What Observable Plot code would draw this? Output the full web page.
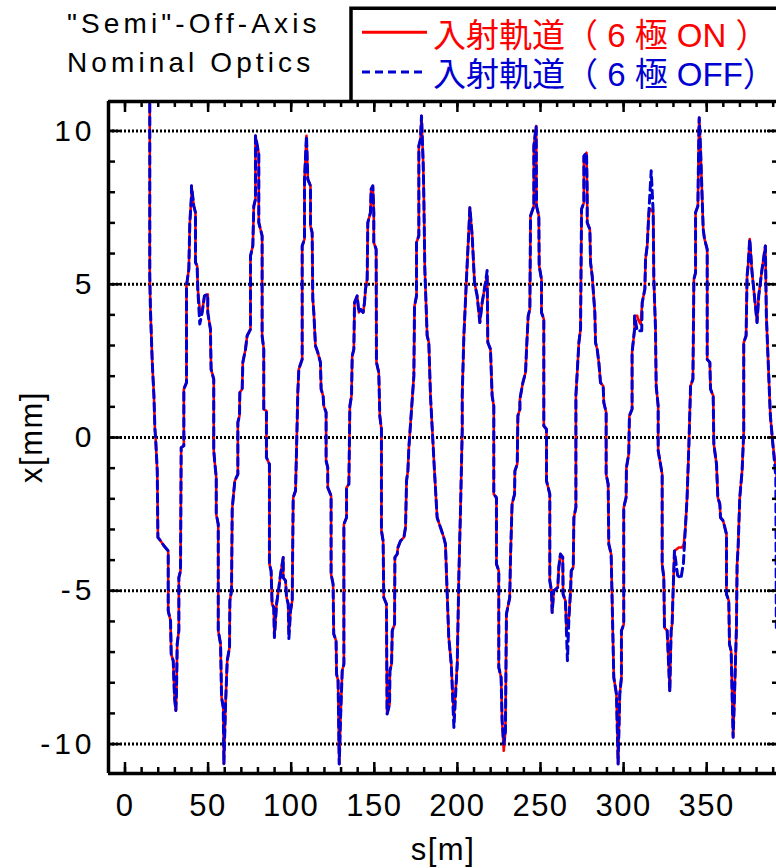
<!DOCTYPE html>
<html><head><meta charset="utf-8">
<script src="https://cdn.jsdelivr.net/npm/d3@7"></script>
<script src="https://cdn.jsdelivr.net/npm/@observablehq/plot@0.6"></script>
<style>
html,body{margin:0;padding:0;background:#fff;overflow:hidden;}
</style></head><body><div id="chart"></div>
<script>
// ---- data (s in m, x in mm) ----
const sOn = [14.9,14.9,15.3,16.4,17.4,18.0,18.4,19.4,19.8,21.4,23.4,26.0,26.0,27.4,27.8,29.0,29.8,30.6,31.0,31.4,32.4,32.4,33.4,33.8,35.4,35.4,37.0,37.0,38.4,39.0,40.0,40.0,41.4,42.4,42.4,43.4,43.8,45.0,46.4,47.8,49.8,49.8,51.4,51.8,53.4,53.4,54.1,54.9,54.9,56.1,56.1,57.5,58.1,59.1,59.5,60.5,61.5,62.9,63.1,64.1,64.5,65.5,66.1,67.9,67.9,68.9,69.1,70.5,70.9,72.5,73.5,75.5,75.5,76.9,77.5,78.5,78.5,80.5,80.5,82.5,82.5,83.5,83.5,85.1,85.1,86.9,86.9,87.9,88.5,89.5,89.9,91.2,92.6,93.6,95.2,95.2,96.6,97.2,98.2,98.6,99.6,100.6,101.2,102.6,103.2,104.0,104.6,106.6,106.6,108.0,108.0,109.2,110.0,111.6,111.6,112.6,113.0,113.6,114.6,116.0,117.6,118.0,119.2,119.6,121.0,121.0,122.0,122.0,124.0,124.0,125.2,125.6,127.0,127.3,128.2,128.9,129.7,130.7,131.7,131.7,133.3,133.3,134.7,135.3,136.3,136.7,137.7,138.1,139.7,140.7,141.7,143.3,144.1,144.7,145.7,146.1,147.7,148.1,149.1,149.7,149.7,151.1,151.3,152.7,153.3,154.3,154.3,155.3,155.7,157.3,157.7,159.2,159.4,160.4,160.8,162.2,162.4,163.8,164.2,165.8,167.8,168.8,169.4,170.2,170.8,173.8,174.2,175.4,175.4,176.8,176.8,177.8,178.4,179.4,179.8,180.4,181.8,182.8,183.8,185.4,186.2,187.8,189.8,191.8,192.8,194.8,196.3,197.9,199.9,200.9,201.9,202.9,202.9,203.9,205.5,206.9,207.5,208.9,210.3,211.9,213.5,214.9,216.9,217.9,218.3,219.9,220.9,221.9,221.9,223.5,223.5,224.9,224.9,226.3,226.9,227.9,228.9,229.5,231.5,231.9,232.9,234.4,234.6,236.0,236.4,237.6,237.6,239.4,241.0,241.6,242.6,243.6,244.0,246.0,246.0,247.4,247.6,249.0,249.2,250.6,250.6,252.0,252.0,253.6,253.6,255.6,255.6,256.6,257.0,258.0,260.4,261.0,262.0,263.4,263.6,265.0,265.7,267.1,268.1,268.5,269.7,270.1,271.3,271.3,273.1,274.1,274.7,276.1,276.1,277.7,278.1,278.1,279.7,280.1,281.1,282.7,283.1,284.1,285.1,286.1,287.7,288.1,289.5,289.5,290.7,291.1,292.5,294.1,295.7,296.7,297.7,298.7,298.7,300.1,300.1,301.5,301.7,303.1,303.5,305.1,305.1,306.6,306.6,308.2,308.6,310.2,311.2,312.8,313.2,314.2,315.2,316.2,317.8,318.2,319.2,319.6,320.8,320.8,322.2,323.2,323.2,324.2,324.6,326.2,327.8,328.6,329.2,329.8,330.6,333.2,335.2,336.2,337.2,338.2,339.3,340.3,341.7,342.3,343.3,343.3,344.7,345.3,345.5,346.3,347.3,347.9,348.7,350.3,350.3,351.9,352.3,353.9,354.3,355.9,356.7,357.9,358.3,359.9,361.9,361.9,363.3,363.7,364.7,365.9,366.7,367.9,368.3,368.9,369.9,371.3,372.3,372.3,373.7,374.3,374.9,375.9,377.3,378.7,380.3,381.3,383.3,385.3,385.9,386.7,388.3,389.9,391.9,394.5];
const xOn = [11.3,5.27,4.18,2.45,1.36,0.27,0.0,-1.09,-3.26,-3.37,-3.53,-3.70,-5.65,-5.98,-7.07,-7.28,-8.48,-8.91,-8.26,-6.74,-6.30,-4.57,-4.35,-0.33,-0.27,1.58,1.79,4.95,5.49,7.01,7.88,8.21,7.55,7.34,5.71,5.60,4.84,4.18,4.08,4.62,4.67,4.08,3.53,2.23,1.90,-0.43,-0.87,-1.30,-2.50,-2.83,-6.30,-6.74,-8.48,-8.80,-10.65,-8.70,-7.28,-6.85,-5.33,-5.00,-2.34,-1.74,-1.41,-1.20,0.49,0.71,1.47,1.58,2.45,2.88,3.32,3.53,5.92,6.25,7.55,7.77,9.84,9.24,7.01,6.58,3.32,2.88,0.92,0.87,-0.65,-0.87,-4.13,-4.35,-5.43,-5.54,-6.52,-5.43,-4.89,-4.46,-3.91,-4.57,-4.67,-5.22,-5.43,-6.41,-5.65,-5.33,-1.96,-1.74,-0.43,1.50,2.23,2.55,6.25,6.47,8.42,9.84,8.42,8.21,6.90,6.68,4.51,4.08,2.99,2.77,2.45,1.58,1.36,1.03,0.82,-0.76,-0.98,-1.63,-1.90,-4.46,-4.78,-6.41,-6.63,-7.72,-7.93,-10.65,-9.13,-7.61,-7.39,-2.83,-2.61,-1.63,-1.52,1.03,1.36,2.66,2.88,4.40,4.62,4.08,4.18,4.08,4.40,4.84,5.16,7.01,7.34,8.10,8.21,7.34,6.36,6.14,2.45,2.12,0.71,0.27,-3.04,-3.37,-5.22,-5.43,-9.02,-8.70,-7.61,-7.39,-6.30,-6.09,-3.91,-3.80,-3.59,-3.37,-3.26,-2.93,-1.41,-1.09,-0.33,2.01,4.29,4.62,6.36,6.58,9.51,9.73,10.49,8.97,7.88,5.49,3.32,3.10,1.36,-0.27,-1.09,-2.61,-2.93,-3.26,-3.48,-6.52,-7.39,-9.13,-7.39,-4.46,-2.28,0.22,1.36,3.32,5.22,6.79,7.50,6.58,5.05,4.62,3.75,4.40,5.05,5.27,3.10,2.88,1.36,1.03,-1.85,-1.96,-4.13,-4.35,-7.50,-7.83,-9.24,-10.22,-9.57,-5.76,-5.22,-4.02,-2.17,-1.85,-1.09,-0.87,0.71,0.92,1.25,1.79,2.12,2.88,3.97,4.18,7.23,7.55,9.51,10.16,7.55,7.23,5.60,5.16,4.08,3.86,0.38,0.27,-1.41,-1.85,-4.67,-5.00,-5.71,-5.00,-4.89,-4.24,-3.80,-3.91,-5.11,-5.33,-6.30,-5.87,-5.00,-4.35,-4.24,-2.61,-2.28,1.36,3.10,3.53,7.45,7.66,9.18,9.29,7.99,7.01,6.79,5.71,5.27,4.08,3.10,2.88,2.45,1.79,1.68,1.14,0.82,-1.20,-1.52,-3.48,-3.80,-7.83,-8.37,-10.65,-8.37,-7.83,-6.30,-6.09,-2.28,-1.96,-0.98,-0.54,0.71,0.92,2.77,3.53,3.97,3.97,3.86,3.70,4.40,4.84,5.82,6.25,7.34,7.45,7.34,5.16,3.53,1.68,1.03,-0.43,-0.87,-1.20,-4.13,-4.57,-6.20,-6.30,-8.26,-6.30,-6.09,-5.00,-3.70,-3.59,-3.59,-3.48,-2.93,-1.96,-0.22,1.68,1.90,5.16,5.38,7.34,7.55,10.05,10.43,9.40,7.77,6.79,6.47,6.14,2.55,2.45,1.58,1.36,-0.22,-0.87,-1.96,-2.17,-2.61,-2.72,-3.15,-5.11,-5.33,-6.74,-6.96,-9.78,-8.48,-6.20,-4.13,-3.59,-1.96,-1.09,0.20,3.10,3.32,5.27,5.60,6.47,5.38,4.62,3.75,4.62,5.49,6.25,3.97,2.88,0.71,-0.27,-1.09,-3.50];

const sOff = [14.9,14.9,15.3,16.4,17.4,18.0,18.4,19.4,19.8,21.4,23.4,26.0,26.0,27.4,27.8,29.0,29.8,30.6,31.0,31.4,32.4,32.4,33.4,33.8,35.4,35.4,37.0,37.0,38.4,39.0,40.0,40.0,41.4,42.4,42.4,43.4,43.8,45.0,46.4,47.8,49.8,49.8,51.4,51.8,53.4,53.4,54.1,54.9,54.9,56.1,56.1,57.5,58.1,59.1,59.5,60.5,61.5,62.9,63.1,64.1,64.5,65.5,66.1,67.9,67.9,68.9,69.1,70.5,70.9,72.5,73.5,75.5,75.5,76.9,77.5,78.5,78.5,80.5,80.5,82.5,82.5,83.5,83.5,85.1,85.1,86.9,86.9,87.9,88.5,89.5,89.9,91.2,92.6,93.6,95.2,95.2,96.6,97.2,98.2,98.6,99.6,100.6,101.2,102.6,103.2,104.0,104.6,106.6,106.6,108.0,108.0,109.2,110.0,111.6,111.6,112.6,113.0,113.6,114.6,116.0,117.6,118.0,119.2,119.6,121.0,121.0,122.0,122.0,124.0,124.0,125.2,125.6,127.0,127.3,128.2,128.9,129.7,130.7,131.7,131.7,133.3,133.3,134.7,135.3,136.3,136.7,137.7,138.1,139.7,140.7,141.7,143.3,144.1,144.7,145.7,146.1,147.7,148.1,149.1,149.7,149.7,151.1,151.3,152.7,153.3,154.3,154.3,155.3,155.7,157.3,157.7,159.2,159.4,160.4,160.8,162.2,162.4,163.8,164.2,165.8,167.8,168.8,169.4,170.2,170.8,173.8,174.2,175.4,175.4,176.8,176.8,177.8,178.4,179.4,179.8,180.4,181.8,182.8,183.8,185.4,186.2,187.8,189.8,191.8,192.8,194.8,196.3,197.9,199.9,200.9,201.9,202.9,202.9,203.9,205.5,206.9,207.5,208.9,210.3,211.9,213.5,214.9,216.9,217.9,218.3,219.9,220.9,221.9,221.9,223.5,223.5,224.9,224.9,226.3,226.9,227.9,228.9,229.5,231.5,231.9,232.9,234.4,234.6,236.0,236.4,237.6,237.6,239.4,241.0,241.6,242.6,243.6,244.0,246.0,246.0,247.4,247.6,249.0,249.2,250.6,250.6,252.0,252.0,253.6,253.6,255.6,255.6,256.6,257.0,258.0,260.4,261.0,262.0,263.4,263.6,265.0,266.2,267.1,268.1,268.5,269.7,270.1,271.3,271.3,273.1,274.1,274.7,276.1,276.1,277.7,278.1,278.1,279.7,280.1,281.1,282.7,283.1,284.1,285.1,286.1,287.7,288.1,289.5,289.5,290.7,291.1,292.5,294.1,295.7,296.7,297.7,298.7,298.7,300.1,300.1,301.5,301.7,303.1,303.5,305.1,305.1,306.6,306.6,308.2,308.6,310.9,311.2,312.8,313.2,314.2,315.2,316.6,317.8,318.2,319.2,319.6,320.8,320.8,322.2,323.2,323.2,324.2,324.6,326.2,327.8,328.6,329.2,329.8,330.6,332.5,334.5,336.0,337.2,338.2,339.3,340.3,341.7,342.3,343.3,343.3,344.7,345.3,345.5,346.3,347.3,347.9,348.7,350.3,350.3,351.9,352.3,353.9,354.3,355.9,356.7,357.9,358.3,359.9,361.9,361.9,363.3,363.7,364.7,365.9,366.7,367.9,368.3,368.9,369.9,371.3,372.3,372.3,373.7,374.3,374.9,375.9,377.3,378.7,380.3,381.3,383.3,385.3,385.9,386.7,388.3,389.9,391.6,391.9];
const xOff = [11.3,5.27,4.18,2.45,1.36,0.27,0.0,-1.09,-3.26,-3.37,-3.53,-3.70,-5.65,-5.98,-7.07,-7.28,-8.48,-8.91,-8.26,-6.74,-6.30,-4.57,-4.35,-0.33,-0.27,1.58,1.79,4.95,5.49,7.01,7.88,8.21,7.55,7.34,5.71,5.60,4.84,3.70,4.08,4.62,4.67,4.08,3.53,2.23,1.90,-0.43,-0.87,-1.30,-2.50,-2.83,-6.30,-6.74,-8.48,-8.80,-10.65,-8.70,-7.28,-6.85,-5.33,-5.00,-2.34,-1.74,-1.41,-1.20,0.49,0.71,1.47,1.58,2.45,2.88,3.32,3.53,5.92,6.25,7.55,7.77,9.84,9.24,7.01,6.58,3.32,2.88,0.92,0.87,-0.65,-0.87,-4.13,-4.35,-5.43,-5.54,-6.52,-5.43,-4.89,-4.46,-3.91,-4.57,-4.67,-5.22,-5.43,-6.57,-5.65,-5.33,-1.96,-1.74,-0.43,1.50,2.23,2.55,6.25,6.47,8.42,9.84,8.42,8.21,6.90,6.68,4.51,4.08,2.99,2.77,2.45,1.58,1.36,1.03,0.82,-0.76,-0.98,-1.63,-1.90,-4.46,-4.78,-6.41,-6.63,-7.72,-7.93,-10.65,-9.13,-7.61,-7.39,-2.83,-2.61,-1.63,-1.52,1.03,1.36,2.66,2.88,4.40,4.62,4.08,4.18,4.08,4.40,4.84,5.16,7.01,7.34,8.10,8.21,7.34,6.36,6.14,2.45,2.12,0.71,0.27,-3.04,-3.37,-5.22,-5.43,-9.02,-8.70,-7.61,-7.39,-6.30,-6.09,-3.91,-3.80,-3.59,-3.37,-3.26,-2.93,-1.41,-1.09,-0.33,2.01,4.29,4.62,6.36,6.58,9.51,9.73,10.49,8.97,7.88,5.49,3.32,3.10,1.36,-0.27,-1.09,-2.61,-2.93,-3.26,-3.48,-6.52,-7.39,-9.46,-7.39,-4.46,-2.28,0.22,1.36,3.32,5.22,6.79,7.50,6.58,5.05,4.62,3.75,4.40,5.05,5.45,3.10,2.88,1.36,1.03,-1.85,-1.96,-4.13,-4.35,-7.50,-7.83,-9.24,-10.00,-9.57,-5.76,-5.22,-4.02,-2.17,-1.85,-1.09,-0.87,0.71,0.92,1.25,1.79,2.12,2.88,3.97,4.18,7.23,7.55,9.51,10.16,7.55,7.23,5.60,5.16,4.08,3.86,0.38,0.27,-1.41,-1.85,-4.67,-5.00,-5.71,-5.00,-4.89,-4.24,-3.80,-3.91,-5.11,-5.33,-7.28,-5.87,-5.00,-4.35,-4.24,-2.61,-2.28,1.36,3.10,3.53,7.45,7.66,9.18,9.29,7.99,7.01,6.79,5.71,5.27,4.08,3.10,2.88,2.45,1.79,1.68,1.14,0.82,-1.20,-1.52,-3.48,-3.80,-7.83,-8.37,-10.65,-8.37,-7.83,-6.30,-6.09,-2.28,-1.96,-0.98,-0.54,0.71,0.92,2.77,3.53,3.97,3.48,3.48,3.48,4.40,4.84,5.82,6.25,7.34,8.70,7.34,5.16,3.53,1.68,1.03,-0.43,-0.87,-1.20,-4.13,-4.57,-6.20,-6.30,-8.30,-6.30,-6.09,-5.00,-3.70,-4.50,-4.60,-4.10,-2.93,-1.96,-0.22,1.68,1.90,5.16,5.38,7.34,7.55,10.05,10.43,9.40,7.77,6.79,6.47,6.14,2.55,2.45,1.58,1.36,-0.22,-0.87,-1.96,-2.17,-2.61,-2.72,-3.15,-5.11,-5.33,-6.74,-6.96,-9.78,-8.48,-6.20,-4.13,-3.59,-1.96,-1.09,0.20,3.10,3.32,5.27,5.60,6.47,5.38,4.62,3.75,4.62,5.49,6.25,3.97,2.88,0.71,-0.27,-1.30,-6.20];

const yMinorTicks = [-10,-9,-8,-7,-6,-5,-4,-3,-2,-1,0,1,2,3,4,5,6,7,8,9,10];
const yLabelTicks = [-10,-5,0,5,10];
const xMinorTicks = [0,10,20,30,40,50,60,70,80,90,100,110,120,130,140,150,160,170,180,190,200,210,220,230,240,250,260,270,280,290,300,310,320,330,340,350,360,370,380,390];
const xLabelTicks = [0,50,100,150,200,250,300,350];
const xDomain = [-9.93, 392.0];
const yDomain = [-10.96, 10.96];
const titleLines = ['"Semi"-Off-Axis', 'Nominal Optics'];
const legendLabels = ["入射軌道（ 6 極 ON ）", "入射軌道（ 6 極 OFF）"];
const seriesColors = ["#ff0000", "#0000d2"];
const xTitle = "s[m]";
const yTitle = "x[mm]";

if (sOn.length !== xOn.length || sOff.length !== xOff.length)
  throw new Error(`length mismatch ${sOn.length} ${xOn.length} ${sOff.length} ${xOff.length}`);

const W = 776, H = 868, mL = 108, mR = 0, mT = 101, mB = 95;
const pw = W - mL - mR, ph = H - mT - mB;
const onData = sOn.map((s, i) => ({s, x: xOn[i]}));
const offData = sOff.map((s, i) => ({s, x: xOff[i]}));
const font = "'Liberation Sans', Arimo, Arial, 'Noto Sans CJK JP', sans-serif";

const svg = Plot.plot({
  width: W, height: H,
  marginLeft: mL, marginRight: mR, marginTop: mT, marginBottom: mB,
  style: {fontFamily: font, background: "white", color: "black"},
  x: {domain: xDomain, label: null},
  y: {domain: yDomain, label: null},
  marks: [
    Plot.ruleY(yLabelTicks, {stroke: "black", strokeWidth: 3, strokeDasharray: "2,2"}),
    Plot.line(onData, {x: "s", y: "x", stroke: seriesColors[0], strokeWidth: 2.6, clip: true}),
    Plot.line(offData, {x: "s", y: "x", stroke: seriesColors[1], strokeWidth: 3, strokeDasharray: "8,5", clip: true}),
    Plot.tickY(yMinorTicks, {y: d => d, insetRight: pw - 7, strokeWidth: 2.5}),
    Plot.tickY(yLabelTicks, {y: d => d, insetRight: pw - 12, strokeWidth: 2.5}),
    Plot.tickY(yMinorTicks, {y: d => d, insetLeft: pw - 4, strokeWidth: 2.5}),
    Plot.tickY(yLabelTicks, {y: d => d, insetLeft: pw - 9, strokeWidth: 2.5}),
    Plot.tickX(xMinorTicks, {x: d => d, insetBottom: ph - 6, strokeWidth: 2.5}),
    Plot.tickX(xLabelTicks, {x: d => d, insetBottom: ph - 11, strokeWidth: 2.5}),
    Plot.tickX(xMinorTicks, {x: d => d, insetTop: ph - 6, strokeWidth: 2.5}),
    Plot.tickX(xLabelTicks, {x: d => d, insetTop: ph - 11, strokeWidth: 2.5}),
    // frame: left, top and bottom edges (the right edge lies just past the page)
    Plot.ruleX([xDomain[0]], {stroke: "black", strokeWidth: 3.5}),
    Plot.ruleY(yDomain, {stroke: "black", strokeWidth: 3.5}),
    Plot.axisX(xLabelTicks, {tickSize: 0, tickPadding: 20, fontSize: 31, tickFormat: d => String(d), label: null}),
    Plot.axisY(yLabelTicks, {tickSize: 0, tickPadding: 13, fontSize: 30, tickFormat: d => String(d), label: null})
  ]
});
document.getElementById("chart").appendChild(svg);

const root = d3.select(svg);
root.selectAll('g[aria-label="y-axis tick label"] text').attr("letter-spacing", 4);
root.selectAll('g[aria-label="x-axis tick label"] text').attr("letter-spacing", 1.5);

const g = root.append("g").attr("font-family", font).attr("fill", "black");
// title lines
g.selectAll("text.title").data(titleLines).join("text")
  .attr("x", 67).attr("y", (d, i) => 33 + i * 39).attr("text-anchor", "start")
  .attr("font-size", 28).attr("letter-spacing", 4.1).text(d => d);
// axis titles
g.append("text").attr("x", 443).attr("y", 860).attr("text-anchor", "middle")
  .attr("font-size", 31).attr("letter-spacing", 1.5).text(xTitle);
g.append("text").attr("transform", "translate(42,437) rotate(-90)").attr("text-anchor", "middle")
  .attr("font-size", 31).attr("letter-spacing", 1.5).text(yTitle);

// legend box (top & left edges; right side runs off the page)
const lg = root.append("g");
lg.append("path").attr("d", `M351,${mT} L351,8.3 L${W + 5},8.3`)
  .attr("fill", "none").attr("stroke", "black").attr("stroke-width", 3.5);
const rowY = [32.3, 72];
const baseY = [46.5, 86];
legendLabels.forEach((lab, i) => {
  lg.append("line").attr("x1", 362).attr("x2", 427).attr("y1", rowY[i]).attr("y2", rowY[i])
    .attr("stroke", seriesColors[i]).attr("stroke-width", 3)
    .attr("stroke-dasharray", i === 1 ? "8,5" : null);
  lg.append("text").attr("x", 433).attr("y", baseY[i]).attr("font-family", font)
    .attr("text-anchor", "start")
    .attr("font-size", 33).attr("fill", seriesColors[i]).text(lab);
});
</script></body></html>
